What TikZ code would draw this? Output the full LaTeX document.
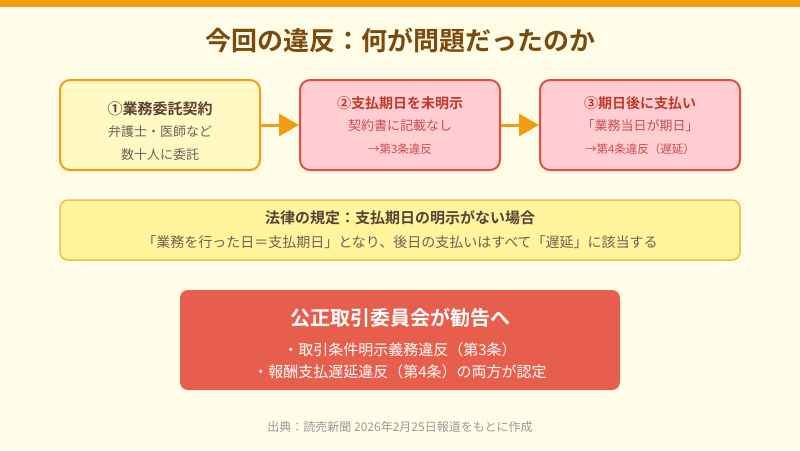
\documentclass[tikz,border=0pt]{standalone}
\usepackage{fontspec}
\setmainfont{Noto Sans CJK JP}[BoldFont={* Bold}]
\usetikzlibrary{arrows.meta}
\definecolor{bg}{HTML}{FFFDE7}
\definecolor{topbar}{HTML}{F39C12}
\definecolor{titlec}{HTML}{7B4A0C}
\definecolor{ybox}{HTML}{FFF9C4}
\definecolor{ybord}{HTML}{F39C12}
\definecolor{rbox}{HTML}{FFCDD2}
\definecolor{rbord}{HTML}{E74C3C}
\definecolor{rtitle}{HTML}{C0392B}
\definecolor{rtext}{HTML}{C75050}
\definecolor{brown}{HTML}{5D4037}
\definecolor{lawbox}{HTML}{FFF59D}
\definecolor{lawbord}{HTML}{F6BB42}
\definecolor{redbox}{HTML}{E85E4C}
\definecolor{foot}{HTML}{999999}
\tikzset{
  stepbox/.style={draw, line width=2pt, rounded corners=10pt, minimum width=200pt, minimum height=90pt},
  flowarrow/.style={draw=topbar, line width=3pt, -{Triangle[length=20pt,width=22pt]}},
}
\begin{document}
\begin{tikzpicture}[x=1pt,y=-1pt]
\useasboundingbox (0,0) rectangle (800,450);
\fill[bg] (0,0) rectangle (800,450);
\fill[topbar] (0,0) rectangle (800,7);
\node[text=titlec, font=\fontsize{26}{30}\selectfont\bfseries] (title) at (400,40) {今回の違反：何が問題だったのか};
% step boxes
\node[stepbox, draw=ybord, fill=ybox] (b1) at (160,125) {};
\node[stepbox, draw=rbord, fill=rbox] (b2) at (400,125) {};
\node[stepbox, draw=rbord, fill=rbox] (b3) at (640,125) {};
\node[text=brown, font=\fontsize{15}{18}\selectfont\bfseries] (b1t) at (160,109) {①業務委託契約};
\node[text=brown!85, font=\fontsize{13}{15}\selectfont] (b1a) at (160,132) {弁護士・医師など};
\node[text=brown!85, font=\fontsize{13}{15}\selectfont] (b1b) at (160,155) {数十人に委託};
\node[text=rtitle, font=\fontsize{14}{17}\selectfont\bfseries] (b2t) at (400,103) {②支払期日を未明示};
\node[text=rtext, font=\fontsize{13}{15}\selectfont] (b2a) at (400,126) {契約書に記載なし};
\node[text=rtext, font=\fontsize{11.5}{14}\selectfont] (b2b) at (400,149) {→第3条違反};
\node[text=rtitle, font=\fontsize{14}{17}\selectfont\bfseries] (b3t) at (640,103) {③期日後に支払い};
\node[text=rtext, font=\fontsize{13}{15}\selectfont] (b3a) at (640,126) {「業務当日が期日」};
\node[text=rtext, font=\fontsize{11.5}{14}\selectfont] (b3b) at (640,149) {→第4条違反（遅延）};
\draw[flowarrow] (b1.east) -- (b2.west);
\draw[flowarrow] (b2.east) -- (b3.west);
% law box
\node[draw=lawbord, fill=lawbox, line width=1.5pt, rounded corners=8pt, minimum width=680pt, minimum height=60pt] (law) at (400,230) {};
\node[text=brown, font=\fontsize{15}{18}\selectfont\bfseries] (lawt) at (400,218) {法律の規定：支払期日の明示がない場合};
\node[text=brown!85, font=\fontsize{14}{16}\selectfont] (lawa) at (400,242) {「業務を行った日＝支払期日」となり、後日の支払いはすべて「遅延」に該当する};
% red box
\node[fill=redbox, rounded corners=8pt, minimum width=440pt, minimum height=100pt] (red) at (400,340) {};
\node[text=white, font=\fontsize{20}{24}\selectfont\bfseries] (redt) at (400,318) {公正取引委員会が勧告へ};
\node[text=white, font=\fontsize{15}{18}\selectfont] (reda) at (400,350) {・取引条件明示義務違反（第3条）};
\node[text=white, font=\fontsize{15}{18}\selectfont] (redb) at (400,372) {・報酬支払遅延違反（第4条）の両方が認定};
\node[text=foot, font=\fontsize{12}{14}\selectfont] (src) at (400,427) {出典：読売新聞 2026年2月25日報道をもとに作成};
\end{tikzpicture}
\end{document}
